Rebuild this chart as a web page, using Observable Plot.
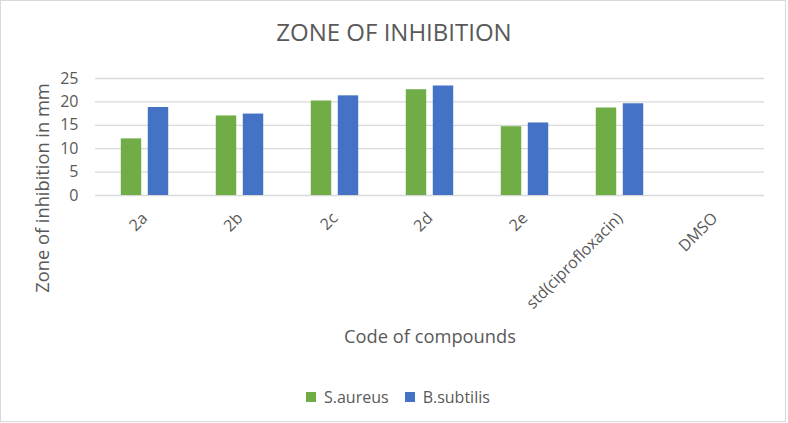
<!DOCTYPE html>
<html><head><meta charset="utf-8">
<script src="https://cdn.jsdelivr.net/npm/d3@7"></script>
<script src="https://cdn.jsdelivr.net/npm/@observablehq/plot@0.6"></script>
<style>
body{margin:0;background:#fff;font-family:"Open Sans",sans-serif;}
#chart{position:relative;width:788px;height:423px;overflow:hidden;background:#fff;}
#frame{position:absolute;left:0;top:0;width:786px;height:422px;box-sizing:border-box;border:1px solid #d9d9d9;}
#chart > svg.main{position:absolute;left:0;top:0;}
#title{position:absolute;left:0;width:788px;top:17px;text-align:center;font-size:24px;color:#595959;line-height:30px;}
#ylab{position:absolute;left:41px;top:188px;transform:translate(-50%,-50%) rotate(-90deg);white-space:nowrap;font-size:18.3px;color:#595959;}
#xlab{position:absolute;left:0;width:860px;top:323px;text-align:center;font-size:18.3px;color:#595959;}
#legend{position:absolute;left:306px;top:380px;}
</style></head><body><div id="chart"><div id="frame"></div></div>
<script>
const categories = ["2a","2b","2c","2d","2e","std(ciprofloxacin)","DMSO"];
const seriesNames = ["S.aureus","B.subtilis"];
const seriesColors = ["#70ad47","#4472c4"];
const saureus = [12.1, 17.0, 20.2, 22.6, 14.7, 18.7, 0];
const bsubtilis = [18.8, 17.4, 21.3, 23.4, 15.5, 19.6, 0];
const yTicks = [0,5,10,15,20,25];
const titleText = "ZONE OF INHIBITION";
const yLabel = "Zone of inhibition in mm";
const xLabel = "Code of compounds";

const rows = categories.map((c,i)=>({category:c, s:saureus[i], b:bsubtilis[i]}));
const W=788,H=423,mL=95,mR=24;
const bw=(W-mL-mR)/categories.length;
const chart=document.getElementById("chart");
const plot=Plot.plot({
  width:W,height:H,marginTop:78,marginBottom:228,marginLeft:mL,marginRight:mR,
  className:"main",
  style:{background:"transparent",color:"#595959",fontFamily:"Open Sans",fontSize:"16px"},
  x:{domain:categories,padding:0,label:null},
  y:{domain:[0,25],label:null},
  marks:[
    Plot.ruleY(yTicks,{stroke:"#d9d9d9",strokeWidth:1.3}),
    Plot.barY(rows,{x:"category",y:"s",fill:seriesColors[0],insetLeft:bw/2-24,insetRight:bw/2+3}),
    Plot.barY(rows,{x:"category",y:"b",fill:seriesColors[1],insetLeft:bw/2+3,insetRight:bw/2-24}),
    Plot.axisY({ticks:yTicks,tickSize:0,tickPadding:17,fontSize:16,label:null}),
    Plot.axisX({tickRotate:-45,tickSize:0,tickPadding:20,fontSize:16,label:null})
  ]
});
plot.classList.add("main");
chart.appendChild(plot);
const t=document.createElement("div");t.id="title";t.textContent=titleText;chart.appendChild(t);
const yl=document.createElement("div");yl.id="ylab";yl.textContent=yLabel;chart.appendChild(yl);
const xl=document.createElement("div");xl.id="xlab";xl.textContent=xLabel;chart.appendChild(xl);
const lg=Plot.legend({color:{type:"ordinal",domain:seriesNames,range:seriesColors},swatchSize:10,style:{fontFamily:"Open Sans",fontSize:"16px",color:"#595959",background:"transparent"}});
const lw=document.createElement("div");lw.id="legend";lw.appendChild(lg);chart.appendChild(lw);
</script></body></html>
